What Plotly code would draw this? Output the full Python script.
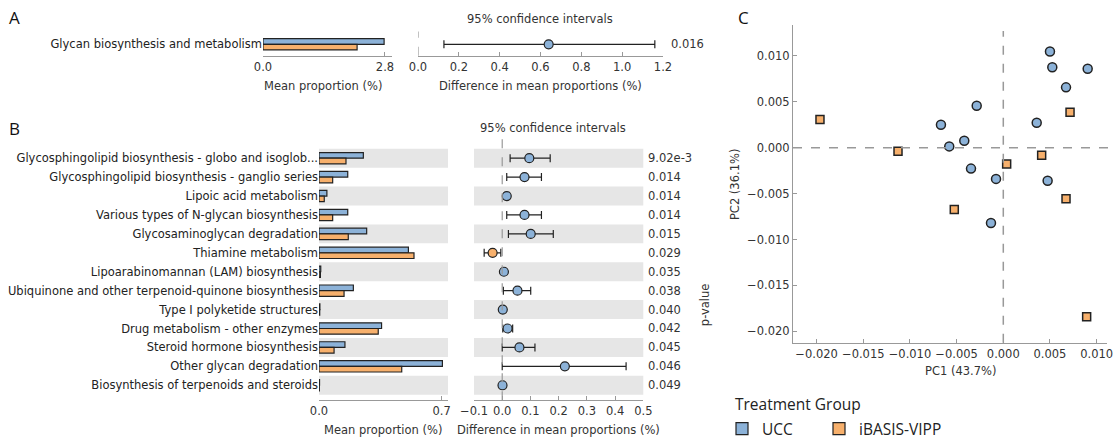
import plotly.graph_objects as go

# ---------------- data ----------------
groups = ["UCC", "iBASIS-VIPP"]
colors = {"UCC": "#8cb2d8", "iBASIS-VIPP": "#f7b06c"}

# Panel A
a_label = ["Glycan biosynthesis and metabolism"]
a_ucc = [2.78]
a_ibasis = [2.16]
a_diff = [0.64]
a_ci_low = [0.127]
a_ci_high = [1.16]
a_pval = ["0.016"]

# Panel B
b_labels = [
    "Glycosphingolipid biosynthesis - globo and isoglob...",
    "Glycosphingolipid biosynthesis - ganglio series",
    "Lipoic acid metabolism",
    "Various types of N-glycan biosynthesis",
    "Glycosaminoglycan degradation",
    "Thiamine metabolism",
    "Lipoarabinomannan (LAM) biosynthesis",
    "Ubiquinone and other terpenoid-quinone biosynthesis",
    "Type I polyketide structures",
    "Drug metabolism - other enzymes",
    "Steroid hormone biosynthesis",
    "Other glycan degradation",
    "Biosynthesis of terpenoids and steroids",
]
b_ucc = [0.253, 0.164, 0.045, 0.164, 0.272, 0.51, 0.010, 0.196, 0.005, 0.357, 0.148, 0.704, 0.003]
b_ibasis = [0.154, 0.078, 0.030, 0.078, 0.167, 0.542, 0.008, 0.143, 0.004, 0.338, 0.086, 0.472, 0.002]
b_diff = [0.096, 0.079, 0.016, 0.079, 0.101, -0.034, 0.006, 0.054, 0.002, 0.019, 0.061, 0.222, 0.001]
b_ci_low = [0.028, 0.016, 0.010, 0.016, 0.022, -0.064, 0.003, 0.004, 0.001, 0.002, 0.000, 0.000, 0.000]
b_ci_high = [0.170, 0.139, 0.022, 0.139, 0.181, -0.005, 0.009, 0.101, 0.003, 0.037, 0.116, 0.439, 0.002]
b_pval = ["9.02e-3", "0.014", "0.014", "0.014", "0.015", "0.029", "0.035",
          "0.038", "0.040", "0.042", "0.045", "0.046", "0.049"]

# Panel C (PCA)
ucc_pc1 = [0.0050, 0.00525, 0.00904, 0.00672, -0.00285, -0.00668, 0.00358,
           -0.00418, -0.00579, -0.00346, -0.00078, 0.00475, -0.00132]
ucc_pc2 = [0.01047, 0.00875, 0.0086, 0.00657, 0.00457, 0.0025, 0.00271,
           0.00075, 0.00014, -0.00228, -0.0034, -0.00361, -0.0082]
ib_pc1 = [-0.01964, -0.01128, 0.00036, 0.00411, 0.00715, 0.00672, -0.00525, 0.00893]
ib_pc2 = [0.00307, -0.00039, -0.00179, -0.00082, 0.00386, -0.00557, -0.00672, -0.0184]
pc_ticks = [-0.020, -0.015, -0.010, -0.005, 0.000, 0.005, 0.010]

# ---------------- layout helpers ----------------
W, H = 1114, 446
def px(x): return x / W
def py(y): return 1 - y / H

FONT = "DejaVu Sans"
FS = 11.5
TXT = "#333333"
EDGE = "#222222"
BAND = "#e6e6e6"
LEGFONT = dict(family="Open Sans", size=15.5, color="#222")

fig = go.Figure()
n = len(b_labels)
rows = list(range(n))

# Panel A bars
fig.add_trace(go.Bar(y=[0], x=a_ucc, orientation="h", width=0.3, offset=-0.3,
                     marker=dict(color=colors["UCC"], line=dict(color=EDGE, width=1.2)),
                     name="UCC", legendgroup="UCC", legend="legend", xaxis="x", yaxis="y"))
fig.add_trace(go.Bar(y=[0], x=a_ibasis, orientation="h", width=0.3, offset=0,
                     marker=dict(color=colors["iBASIS-VIPP"], line=dict(color=EDGE, width=1.2)),
                     name="iBASIS-VIPP", legendgroup="iBASIS-VIPP", legend="legend2",
                     xaxis="x", yaxis="y"))
# Panel A CI
fig.add_trace(go.Scatter(
    x=a_diff, y=[0], mode="markers", xaxis="x2", yaxis="y", showlegend=False,
    marker=dict(size=9, color=[colors["UCC"] if d > 0 else colors["iBASIS-VIPP"] for d in a_diff],
                line=dict(color=EDGE, width=1.2)),
    error_x=dict(type="data", symmetric=False,
                 array=[h - d for h, d in zip(a_ci_high, a_diff)],
                 arrayminus=[d - l for d, l in zip(a_diff, a_ci_low)],
                 color=EDGE, thickness=1.2, width=4)))

# Panel B bars
fig.add_trace(go.Bar(y=rows, x=b_ucc, orientation="h", width=0.3, offset=-0.3,
                     marker=dict(color=colors["UCC"], line=dict(color=EDGE, width=1.2)),
                     name="UCC", legendgroup="UCC", showlegend=False, xaxis="x3", yaxis="y3"))
fig.add_trace(go.Bar(y=rows, x=b_ibasis, orientation="h", width=0.3, offset=0,
                     marker=dict(color=colors["iBASIS-VIPP"], line=dict(color=EDGE, width=1.2)),
                     name="iBASIS-VIPP", legendgroup="iBASIS-VIPP", showlegend=False,
                     xaxis="x3", yaxis="y3"))
# Panel B CI
fig.add_trace(go.Scatter(
    x=b_diff, y=rows, mode="markers", xaxis="x4", yaxis="y3", showlegend=False,
    marker=dict(size=9, color=[colors["UCC"] if d > 0 else colors["iBASIS-VIPP"] for d in b_diff],
                line=dict(color=EDGE, width=1.2)),
    error_x=dict(type="data", symmetric=False,
                 array=[h - d for h, d in zip(b_ci_high, b_diff)],
                 arrayminus=[d - l for d, l in zip(b_diff, b_ci_low)],
                 color=EDGE, thickness=1.2, width=4)))

# Panel C scatter
fig.add_trace(go.Scatter(x=ucc_pc1, y=ucc_pc2, mode="markers", xaxis="x5", yaxis="y5",
                         showlegend=False, name="UCC",
                         marker=dict(symbol="circle", size=9, color=colors["UCC"],
                                     line=dict(color=EDGE, width=1.5))))
fig.add_trace(go.Scatter(x=ib_pc1, y=ib_pc2, mode="markers", xaxis="x5", yaxis="y5",
                         showlegend=False, name="iBASIS-VIPP",
                         marker=dict(symbol="square", size=8, color=colors["iBASIS-VIPP"],
                                     line=dict(color=EDGE, width=1.5))))

tickfont = dict(family=FONT, size=FS, color=TXT)
common_x = dict(showgrid=False, zeroline=False, showline=True, linecolor="#999999", linewidth=1.2,
                ticks="inside", ticklen=4, tickcolor="#999999", tickfont=tickfont,
                automargin=False)
hidden_y = dict(showgrid=False, zeroline=False, showline=False, ticks="", automargin=False)

fig.update_layout(
    template="none",
    width=W, height=H, margin=dict(l=0, r=0, t=0, b=0, pad=0),
    paper_bgcolor="white", plot_bgcolor="rgba(0,0,0,0)",
    barmode="overlay", font=dict(family=FONT, color=TXT),
    xaxis=dict(common_x, domain=[px(263), px(392)], range=[0, 2.961], anchor="y",
               tickvals=[0, 2.8], ticktext=["0.0", "2.8"]),
    yaxis=dict(hidden_y, domain=[py(56.7), py(32)], range=[0.61, -0.68], anchor="x",
               tickvals=[0], ticktext=a_label, tickfont=dict(family=FONT, size=FS, color="#222")),
    xaxis2=dict(common_x, domain=[px(418), px(663)], range=[0, 1.2], anchor="y",
                tickvals=[0, 0.2, 0.4, 0.6, 0.8, 1.0, 1.2], tickformat=".1f"),
    xaxis3=dict(common_x, domain=[px(319), px(448)], range=[0, 0.736], anchor="y3",
                tickvals=[0, 0.7], ticktext=["0.0", "0.7"]),
    yaxis3=dict(hidden_y, domain=[py(406.6), py(141.5)], range=[12.79, -1.0], anchor="x3",
                tickvals=rows, ticktext=b_labels, tickfont=dict(family=FONT, size=FS, color="#222")),
    xaxis4=dict(common_x, domain=[px(474), px(643.3)], range=[-0.1, 0.5], anchor="y3",
                tickvals=[-0.1, 0, 0.1, 0.2, 0.3, 0.4, 0.5], tickformat=".1f"),
    xaxis5=dict(common_x, domain=[px(793), px(1107)], range=[-0.02253, 0.01111], anchor="y5",
                tickvals=pc_ticks, tickformat=".3f"),
    yaxis5=dict(common_x, domain=[py(348.3), py(25)], range=[-0.02125, 0.0134], anchor="x5",
                tickvals=pc_ticks, tickformat=".3f"),
    legend=dict(orientation="h", x=px(722), y=py(436), xanchor="left", yanchor="middle",
                font=LEGFONT, bgcolor="rgba(0,0,0,0)", borderwidth=0),
    legend2=dict(orientation="h", x=px(819), y=py(436), xanchor="left", yanchor="middle",
                 font=LEGFONT, bgcolor="rgba(0,0,0,0)", borderwidth=0),
)

shapes = []
# grey bands in panel B
for i in rows:
    if i % 2 == 0:
        for x0, x1 in [(319, 448), (474, 643.3)]:
            shapes.append(dict(type="rect", xref="paper", yref="y3", x0=px(x0), x1=px(x1),
                               y0=i - 0.5, y1=i + 0.5, fillcolor=BAND, line=dict(width=0),
                               layer="below"))
# zero lines
shapes.append(dict(type="line", xref="x2", yref="y domain", x0=0, x1=0, y0=0, y1=1,
                   line=dict(color="#999999", width=1.2, dash="dash")))
shapes.append(dict(type="line", xref="x4", yref="y3 domain", x0=0, x1=0, y0=0, y1=1,
                   line=dict(color="#999999", width=1.2, dash="dash")))
shapes.append(dict(type="line", xref="x5", yref="y5 domain", x0=0, x1=0, y0=0, y1=0.98,
                   line=dict(color="#999999", width=1.5, dash="dash")))
shapes.append(dict(type="line", xref="x5 domain", yref="y5", x0=0, x1=1.01, y0=0, y1=0,
                   line=dict(color="#999999", width=1.5, dash="dash")))
fig.update_layout(shapes=shapes)

ann = []
def text(x, y, s, size=FS, family=FONT, color=TXT, angle=0, xanchor="center"):
    ann.append(dict(x=px(x), y=py(y), xref="paper", yref="paper", text=s, showarrow=False,
                    font=dict(family=family, size=size, color=color), textangle=angle,
                    xanchor=xanchor, yanchor="middle"))

text(323, 87, "Mean proportion (%)")
text(540, 87, "Difference in mean proportions (%)")
text(540, 19, "95% confidence intervals")
text(383, 437, "Mean proportion (%)")
text(558, 437, "Difference in mean proportions (%)")
text(553, 130, "95% confidence intervals")
text(705, 310, "p-value", angle=-90)
text(960, 377, "PC1 (43.7%)")
text(735, 187, "PC2 (36.1%)", angle=-90)
text(14, 18, "A", size=17, family="Open Sans", color="#111")
text(14, 131, "B", size=17, family="Open Sans", color="#111")
text(743, 18, "C", size=17, family="Open Sans", color="#111")
text(733, 410, "Treatment Group", size=15.5, family="Open Sans", color="#222", xanchor="left")

for p in a_pval:
    ann.append(dict(x=px(669), y=0, xref="paper", yref="y", text=p, showarrow=False,
                    xanchor="left", yanchor="middle", font=dict(family=FONT, size=FS, color=TXT)))
for i, p in enumerate(b_pval):
    ann.append(dict(x=px(646), y=i, xref="paper", yref="y3", text=p, showarrow=False,
                    xanchor="left", yanchor="middle", font=dict(family=FONT, size=FS, color=TXT)))
fig.update_layout(annotations=ann)

fig.write_html("out.html", config={"displayModeBar": False},
               post_script="document.body.style.margin='0px';document.body.style.overflow='hidden';")
